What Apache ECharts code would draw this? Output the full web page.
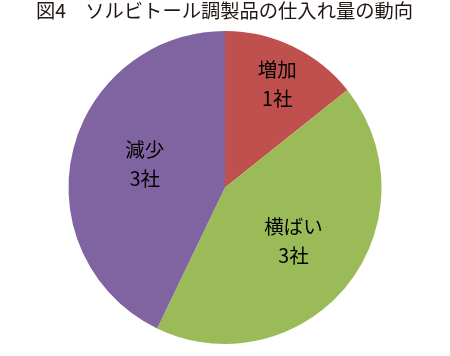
<!DOCTYPE html>
<html><head><meta charset="utf-8">
<script src="https://cdn.jsdelivr.net/npm/echarts@6/dist/echarts.min.js"></script>
<style>html,body{margin:0;padding:0;background:#fff}#c{width:450px;height:356px}</style>
</head><body><div id="c"></div>
<script>
const titleText = '図4　ソルビトール調製品の仕入れ量の動向';
const categories = ['増加', '横ばい', '減少'];
const values = [1, 3, 3];
const unit = '社';
const colors = ['#C0504D', '#9BBB59', '#8064A2'];
const labelOffsets = [[17, -30], [5, 3], [-1, -5]];

const chart = echarts.init(document.getElementById('c'), null, {renderer: 'canvas'});
chart.setOption({
  animation: false,
  title: {
    text: titleText, left: 36, top: 1, padding: 0,
    textStyle: {fontFamily: 'Noto Sans CJK JP', fontSize: 19.3, fontWeight: 'normal', color: '#231815'}
  },
  series: [{
    type: 'pie',
    center: [225, 187.5],
    radius: [0, 156.5],
    startAngle: 90,
    clockwise: true,
    label: {
      show: true, position: 'inside',
      formatter: p => p.name + '\n' + p.value + unit,
      fontFamily: 'Noto Sans CJK JP', fontSize: 19.5, lineHeight: 29, color: '#000'
    },
    labelLine: {show: false},
    itemStyle: {borderWidth: 0},
    emphasis: {disabled: true},
    data: categories.map((n, i) => ({
      name: n, value: values[i],
      itemStyle: {color: colors[i]},
      label: {offset: labelOffsets[i]}
    }))
  }]
});
</script></body></html>
